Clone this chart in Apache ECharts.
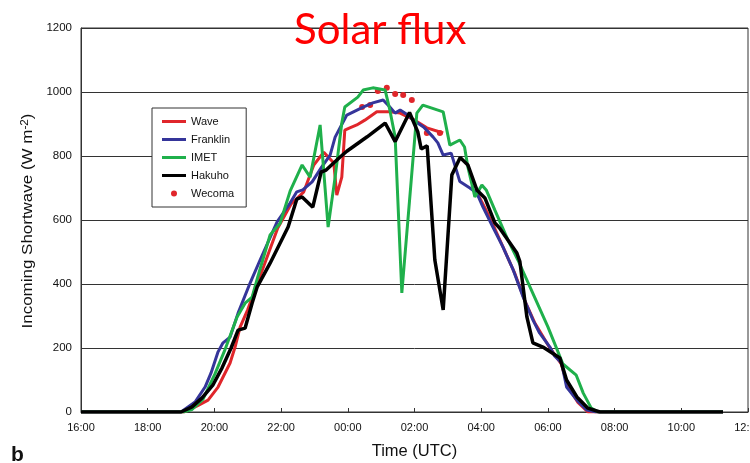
<!DOCTYPE html>
<html>
<head>
<meta charset="utf-8">
<script src="https://cdn.jsdelivr.net/npm/echarts@6/dist/echarts.min.js"></script>
<style>
  html, body { margin: 0; padding: 0; background: #fff; }
  #chart { width: 750px; height: 463px; }
</style>
</head>
<body>
<div id="chart"></div>
<script>
// Time is in hours since 00:00 UTC of the first day (24 = 00:00 next day)
const timeTicks = ['16:00','18:00','20:00','22:00','00:00','02:00','04:00','06:00','08:00','10:00','12:00'];
const yTicks = [0, 200, 400, 600, 800, 1000, 1200];

const waveTime = [16, 19.1, 19.5, 19.81, 20.11, 20.47, 20.62, 20.77, 21.0, 21.3, 21.9, 22.3, 22.68, 22.98, 23.28, 23.58, 23.67, 23.82, 23.91, 24.06, 24.27, 24.51, 24.87, 25.26, 25.57, 25.8, 25.96, 26.37, 26.86,
  26.87, 27.85, 28.1, 28.4, 28.7, 29.0, 29.3, 29.6, 30.0, 30.4, 30.6, 30.9, 31.2, 31.5, 35.25];
const waveVal = [0, 0, 20, 37, 78, 153, 203, 265, 320, 405, 575, 650, 688, 772, 812, 778, 678, 734, 881, 888, 897, 912, 938, 938, 934, 922, 915, 888, 872,
  null, 690, 640, 575, 505, 435, 350, 280, 210, 150, 80, 30, 0, 0, 0];

const franklinTime = [16, 19.0, 19.42, 19.72, 19.9, 20.11, 20.25, 20.47, 20.71, 21.07, 21.37, 21.88, 22.27, 22.47, 22.65, 22.93, 23.22, 23.47, 23.62, 23.97, 24.46, 24.75, 25.06, 25.26, 25.42, 25.57, 25.8, 25.97, 26.27, 26.56, 26.7, 26.86, 27.1, 27.36, 27.66, 27.87, 28.05, 28.35, 28.65, 28.96, 29.26, 29.55, 29.75, 30.06, 30.2, 30.41, 30.56, 30.87, 31.17, 31.45, 35.25];
const franklinVal = [0, 0, 31, 78, 122, 188, 215, 234, 309, 403, 475, 594, 653, 688, 694, 719, 766, 803, 859, 928, 953, 966, 975, 953, 934, 944, 928, 912, 891, 859, 841, 803, 809, 720, 700, 684, 641, 578, 516, 444, 359, 288, 247, 203, 175, 153, 78, 37, 6, 0, 0];

const imetTime = [16, 19.06, 19.33, 19.66, 20.02, 20.3, 20.68, 20.92, 21.13, 21.3, 21.67, 21.97, 22.27, 22.63, 22.87, 23.17, 23.41, 23.62, 23.82, 23.91, 24.3, 24.46, 24.75, 25.12, 25.26, 25.42, 25.62, 26.07, 26.25, 26.86, 27.06, 27.36, 27.5, 27.6, 27.81, 28.02, 28.15, 28.41, 28.8, 29.1, 29.6, 30.0, 30.45, 30.85, 31.06, 31.3, 31.5, 35.25];
const imetVal = [0, 0, 8, 40, 120, 190, 297, 340, 359, 422, 553, 590, 690, 772, 734, 897, 578, 734, 903, 953, 984, 1006, 1013, 1006, 944, 859, 372, 934, 959, 938, 834, 850, 828, 766, 672, 709, 694, 631, 538, 475, 359, 266, 150, 115, 59, 12, 0, 0];

const hakuhoTime = [16, 19.0, 19.33, 19.63, 19.96, 20.23, 20.5, 20.71, 20.92, 21.13, 21.28, 21.67, 22.21, 22.47, 22.63, 22.95, 23.2, 23.35, 23.77, 23.97, 24.58, 25.12, 25.42, 25.85, 26.1, 26.2, 26.38, 26.61, 26.86, 27.12, 27.37, 27.6, 27.87, 28.11, 28.41, 28.55, 29.07, 29.16, 29.37, 29.55, 29.85, 30.36, 30.56, 30.87, 31.2, 31.56, 35.25];
const hakuhoVal = [0, 0, 16, 44, 85, 138, 200, 256, 262, 340, 390, 465, 578, 665, 672, 640, 750, 756, 797, 815, 860, 903, 845, 936, 875, 822, 832, 475, 319, 741, 795, 772, 694, 669, 591, 575, 497, 470, 297, 216, 203, 169, 100, 47, 12, 0, 0];

const wecomaTime = [24.43, 24.67, 24.9, 25.17, 25.42, 25.66, 25.92, 26.37, 26.76];
const wecomaVal = [953, 959, 1003, 1013, 994, 991, 975, 872, 872];

function pairs(t, v) {
  return t.map((x, i) => [x, v[i]]);
}

const FONT = 'Liberation Sans, Arial, sans-serif';
const lineIcon = 'path://M0,0L24,0L24,3L0,3Z';

const chart = echarts.init(document.getElementById('chart'), null, { renderer: 'canvas' });

chart.setOption({
  animation: false,
  backgroundColor: '#ffffff',
  title: {
    text: 'Solar flux',
    left: 289,
    top: 4,
    textStyle: { color: '#ff0000', fontFamily: 'Lato, Open Sans, sans-serif', fontSize: 42, fontWeight: 'normal' }
  },
  grid: {
    left: 81, right: 2, top: 28, bottom: 51,
    outerBoundsMode: 'none',
    containLabel: false,
    show: true, borderColor: '#333', borderWidth: 1
  },
  legend: {
    orient: 'vertical',
    left: 152, top: 108,
    padding: [8, 12, 8, 10],
    itemWidth: 24, itemHeight: 6, itemGap: 7,
    backgroundColor: '#fff',
    borderColor: '#333', borderWidth: 1, borderRadius: 0,
    textStyle: { fontFamily: FONT, fontSize: 11, color: '#111' },
    data: [
      { name: 'Wave', icon: lineIcon },
      { name: 'Franklin', icon: lineIcon },
      { name: 'IMET', icon: lineIcon },
      { name: 'Hakuho', icon: lineIcon },
      { name: 'Wecoma', icon: 'circle' }
    ]
  },
  xAxis: {
    type: 'value',
    min: 16, max: 36, interval: 2,
    name: 'Time (UTC)',
    nameLocation: 'middle', nameGap: 31,
    nameTextStyle: { fontFamily: FONT, fontSize: 16.5, color: '#111' },
    axisLine: { lineStyle: { color: '#333', width: 1 } },
    axisTick: { inside: true, length: 4, lineStyle: { color: '#333' } },
    axisLabel: {
      fontFamily: FONT, fontSize: 11, color: '#111', margin: 10,
      hideOverlap: false,
      formatter: (v) => timeTicks[Math.round((v - 16) / 2)]
    },
    splitLine: { show: false }
  },
  yAxis: {
    type: 'value',
    min: 0, max: 1200, interval: 200,
    axisLine: { show: true, lineStyle: { color: '#333', width: 1 } },
    axisTick: { show: false },
    axisLabel: {
      fontFamily: FONT, fontSize: 11.5, color: '#111', margin: 9,
      formatter: (v) => yTicks.includes(v) ? String(v) : ''
    },
    splitLine: { show: true, lineStyle: { color: '#333', width: 1 } }
  },
  series: [
    {
      name: 'Wave', type: 'line', data: pairs(waveTime, waveVal),
      symbol: 'none', connectNulls: false,
      itemStyle: { color: '#e0262b' },
      lineStyle: { color: '#e0262b', width: 3 }
    },
    {
      name: 'Franklin', type: 'line', data: pairs(franklinTime, franklinVal),
      symbol: 'none',
      itemStyle: { color: '#35359a' },
      lineStyle: { color: '#35359a', width: 3 }
    },
    {
      name: 'IMET', type: 'line', data: pairs(imetTime, imetVal),
      symbol: 'none',
      itemStyle: { color: '#1fb04b' },
      lineStyle: { color: '#1fb04b', width: 3 }
    },
    {
      name: 'Hakuho', type: 'line', data: pairs(hakuhoTime, hakuhoVal),
      symbol: 'none',
      itemStyle: { color: '#000000' },
      lineStyle: { color: '#000000', width: 3.5 }
    },
    {
      name: 'Wecoma', type: 'scatter', data: pairs(wecomaTime, wecomaVal),
      symbol: 'circle', symbolSize: 6,
      itemStyle: { color: '#e0262b', opacity: 1 }
    }
  ],
  graphic: [
    {
      // vertical axis title, stretched slightly along its length
      type: 'text', x: 28, y: 221, rotation: Math.PI / 2, scaleX: 1.17, scaleY: 1,
      style: {
        text: '{a|Incoming Shortwave (W m}{s|-2}{a|)}',
        align: 'center', verticalAlign: 'middle',
        rich: {
          a: { fontFamily: FONT, fontSize: 14.5, fill: '#111' },
          s: { fontFamily: FONT, fontSize: 10, fill: '#111', verticalAlign: 'top', padding: [0, 0, 6, 0] }
        }
      }
    },
    {
      type: 'text', left: 11, top: 445,
      style: { text: 'b', font: 'bold 21px Liberation Sans, Arial, sans-serif', fill: '#111' }
    }
  ]
});
</script>
</body>
</html>
